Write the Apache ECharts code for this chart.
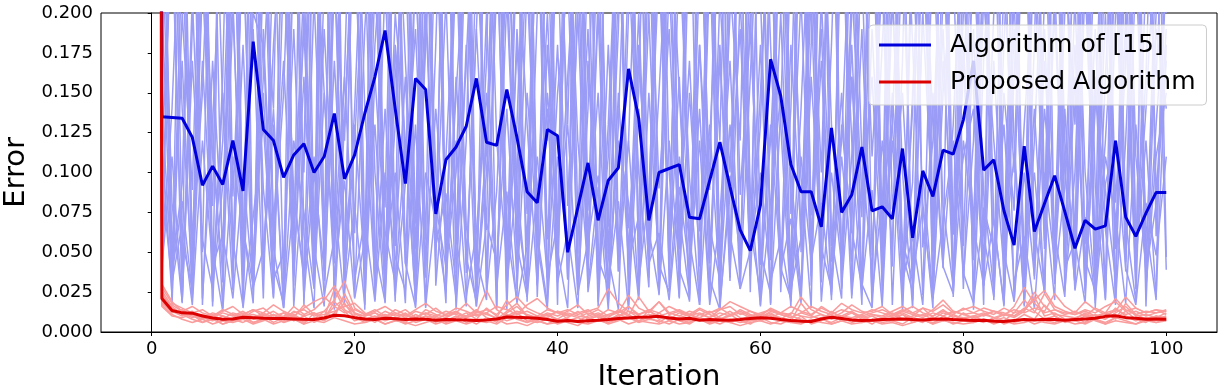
<!DOCTYPE html>
<html>
<head>
<meta charset="utf-8">
<script src="https://cdn.jsdelivr.net/npm/echarts@6/dist/echarts.min.js"></script>
<style>
html, body { margin: 0; padding: 0; background: #fff; }
#chart { width: 1228px; height: 388px; }
</style>
</head>
<body>
<div id="chart"></div>
<script>
// mean error per iteration (index = iteration 0..100), iteration 0 is far above the view
var meanOld = [3,
    0.135, 0.1345, 0.134, 0.122, 0.092, 0.104, 0.0925, 0.12, 0.0885, 0.182,
    0.127, 0.12, 0.097, 0.111, 0.118, 0.1, 0.11, 0.137, 0.096, 0.111,
    0.137, 0.16, 0.189, 0.14, 0.093, 0.159, 0.152, 0.074, 0.108, 0.116,
    0.129, 0.159, 0.119, 0.117, 0.152, 0.122, 0.088, 0.081, 0.127, 0.123,
    0.05, 0.078, 0.106, 0.07, 0.095, 0.103, 0.165, 0.134, 0.07, 0.1,
    0.1025, 0.105, 0.072, 0.071, 0.095, 0.119, 0.091, 0.064, 0.051, 0.0795,
    0.171, 0.148, 0.105, 0.088, 0.088, 0.066, 0.128, 0.075, 0.086, 0.116,
    0.076, 0.0785, 0.071, 0.115, 0.059, 0.101, 0.085, 0.114, 0.1115, 0.133,
    0.17, 0.1015, 0.108, 0.076, 0.0545, 0.1165, 0.063, 0.0805, 0.098, 0.0755,
    0.0525, 0.07, 0.0645, 0.0665, 0.12, 0.072, 0.06, 0.0745, 0.0875, 0.0875];

var meanNew = [3,
    0.021, 0.0135, 0.012, 0.0118, 0.010, 0.0088, 0.008, 0.0082, 0.0092, 0.009,
    0.0086, 0.0085, 0.0084, 0.0082, 0.008, 0.0079, 0.0088, 0.0105, 0.0102, 0.009,
    0.0082, 0.0078, 0.0086, 0.0083, 0.0078, 0.0082, 0.008, 0.0074, 0.0079, 0.0077,
    0.0076, 0.0072, 0.0076, 0.0082, 0.0094, 0.0092, 0.0089, 0.0086, 0.0078, 0.0068,
    0.0072, 0.0066, 0.007, 0.0074, 0.0079, 0.0085, 0.0088, 0.0092, 0.0094, 0.0098,
    0.0088, 0.0082, 0.0086, 0.0074, 0.0078, 0.0076, 0.0074, 0.0078, 0.0084, 0.009,
    0.0086, 0.0078, 0.0072, 0.0068, 0.0066, 0.0082, 0.0092, 0.0084, 0.0076, 0.0072,
    0.0074, 0.0078, 0.008, 0.0082, 0.0078, 0.0076, 0.008, 0.0082, 0.0078, 0.0075,
    0.0072, 0.0074, 0.0068, 0.0066, 0.0072, 0.0078, 0.0076, 0.008, 0.0078, 0.0074,
    0.0078, 0.0082, 0.0086, 0.0098, 0.0102, 0.009, 0.0086, 0.008, 0.0082, 0.008];

// single runs of the algorithm of [15]
var oldRun1 = [3,
    0.21, 0.028, 0.35, 0.047, 0.28, 0.016, 0.16, 0.44, 0.038, 0.25,
    0.09, 0.021, 0.31, 0.061, 0.19, 0.033, 0.48, 0.052, 0.13, 0.27,
    0.014, 0.22, 0.078, 0.36, 0.043, 0.24, 0.015, 0.18, 0.39, 0.055,
    0.26, 0.026, 0.12, 0.3, 0.064, 0.019, 0.37, 0.071, 0.2, 0.036,
    0.29, 0.023, 0.14, 0.33, 0.049, 0.19, 0.42, 0.031, 0.088, 0.25,
    0.041, 0.34, 0.058, 0.017, 0.23, 0.12, 0.38, 0.029, 0.16, 0.3,
    0.045, 0.45, 0.083, 0.022, 0.24, 0.1, 0.32, 0.037, 0.18, 0.025,
    0.27, 0.062, 0.4, 0.013, 0.15, 0.29, 0.051, 0.21, 0.36, 0.034,
    0.12, 0.31, 0.069, 0.018, 0.23, 0.38, 0.042, 0.17, 0.057, 0.28,
    0.027, 0.33, 0.091, 0.02, 0.2, 0.43, 0.048, 0.14, 0.26, 0.039];
var oldRun2 = [3,
    0.064, 0.27, 0.018, 0.19, 0.41, 0.035, 0.12, 0.3, 0.027, 0.22,
    0.37, 0.053, 0.015, 0.26, 0.1, 0.34, 0.032, 0.17, 0.046, 0.29,
    0.44, 0.024, 0.14, 0.019, 0.32, 0.068, 0.21, 0.039, 0.38, 0.059,
    0.016, 0.24, 0.11, 0.35, 0.029, 0.18, 0.054, 0.28, 0.021, 0.4,
    0.079, 0.23, 0.033, 0.31, 0.047, 0.014, 0.2, 0.36, 0.041, 0.15,
    0.27, 0.022, 0.39, 0.063, 0.13, 0.028, 0.25, 0.47, 0.05, 0.18,
    0.017, 0.3, 0.074, 0.21, 0.035, 0.35, 0.044, 0.12, 0.28, 0.023,
    0.19, 0.056, 0.33, 0.026, 0.24, 0.081, 0.015, 0.37, 0.061, 0.16,
    0.29, 0.031, 0.42, 0.049, 0.11, 0.019, 0.26, 0.072, 0.34, 0.038,
    0.21, 0.024, 0.14, 0.31, 0.052, 0.24, 0.029, 0.38, 0.085, 0.19];
var oldRun3 = [3,
    0.12, 0.022, 0.24, 0.058, 0.15, 0.33, 0.031, 0.2, 0.047, 0.37,
    0.036, 0.18, 0.28, 0.016, 0.11, 0.4, 0.062, 0.23, 0.027, 0.14,
    0.3, 0.051, 0.019, 0.35, 0.093, 0.19, 0.034, 0.26, 0.071, 0.021,
    0.32, 0.043, 0.17, 0.45, 0.028, 0.1, 0.24, 0.056, 0.014, 0.29,
    0.13, 0.36, 0.039, 0.2, 0.018, 0.27, 0.065, 0.15, 0.39, 0.025,
    0.22, 0.074, 0.023, 0.31, 0.048, 0.18, 0.032, 0.34, 0.087, 0.016,
    0.26, 0.044, 0.14, 0.38, 0.029, 0.21, 0.059, 0.021, 0.3, 0.11,
    0.037, 0.25, 0.017, 0.17, 0.43, 0.053, 0.12, 0.28, 0.026, 0.2,
    0.35, 0.061, 0.022, 0.22, 0.1, 0.32, 0.042, 0.19, 0.03, 0.27,
    0.054, 0.4, 0.015, 0.16, 0.29, 0.038, 0.23, 0.067, 0.02, 0.33];
var oldRun4 = [3,
    0.33, 0.049, 0.17, 0.021, 0.29, 0.11, 0.037, 0.36, 0.066, 0.018,
    0.23, 0.14, 0.42, 0.029, 0.2, 0.052, 0.3, 0.024, 0.16, 0.38,
    0.058, 0.25, 0.033, 0.13, 0.31, 0.015, 0.19, 0.47, 0.041, 0.1,
    0.28, 0.047, 0.02, 0.22, 0.35, 0.027, 0.15, 0.063, 0.26, 0.017,
    0.34, 0.072, 0.19, 0.03, 0.41, 0.055, 0.12, 0.023, 0.24, 0.3,
    0.039, 0.16, 0.019, 0.28, 0.089, 0.37, 0.034, 0.21, 0.048, 0.13,
    0.32, 0.025, 0.18, 0.06, 0.27, 0.043, 0.44, 0.028, 0.11, 0.23,
    0.016, 0.34, 0.077, 0.15, 0.032, 0.26, 0.05, 0.39, 0.022, 0.18,
    0.068, 0.24, 0.035, 0.31, 0.12, 0.019, 0.36, 0.057, 0.2, 0.045,
    0.28, 0.1, 0.024, 0.25, 0.053, 0.17, 0.41, 0.031, 0.13, 0.22];
var oldRun5 = [3,
    0.045, 0.14, 0.3, 0.023, 0.22, 0.079, 0.39, 0.036, 0.18, 0.027,
    0.27, 0.057, 0.15, 0.34, 0.016, 0.21, 0.048, 0.43, 0.031, 0.12,
    0.24, 0.02, 0.37, 0.054, 0.16, 0.026, 0.28, 0.1, 0.018, 0.33,
    0.042, 0.19, 0.064, 0.4, 0.022, 0.25, 0.13, 0.029, 0.31, 0.051,
    0.015, 0.21, 0.35, 0.038, 0.11, 0.27, 0.033, 0.18, 0.059, 0.38,
    0.028, 0.24, 0.097, 0.019, 0.32, 0.046, 0.2, 0.44, 0.035, 0.15,
    0.29, 0.04, 0.021, 0.36, 0.073, 0.19, 0.025, 0.26, 0.12, 0.017,
    0.4, 0.052, 0.22, 0.03, 0.14, 0.31, 0.023, 0.25, 0.062, 0.35,
    0.014, 0.17, 0.28, 0.044, 0.21, 0.027, 0.39, 0.084, 0.02, 0.24,
    0.13, 0.33, 0.037, 0.2, 0.018, 0.29, 0.058, 0.16, 0.37, 0.047];
var oldRun6 = [3,
    0.26, 0.039, 0.093, 0.32, 0.017, 0.17, 0.053, 0.25, 0.41, 0.028,
    0.15, 0.022, 0.3, 0.069, 0.22, 0.041, 0.36, 0.014, 0.13, 0.26,
    0.048, 0.39, 0.032, 0.2, 0.12, 0.019, 0.27, 0.063, 0.34, 0.037,
    0.17, 0.31, 0.024, 0.088, 0.23, 0.055, 0.44, 0.03, 0.15, 0.071,
    0.35, 0.026, 0.24, 0.016, 0.13, 0.29, 0.046, 0.2, 0.034, 0.4,
    0.1, 0.021, 0.26, 0.36, 0.043, 0.17, 0.061, 0.027, 0.3, 0.21,
    0.018, 0.14, 0.33, 0.05, 0.25, 0.031, 0.18, 0.38, 0.023, 0.092,
    0.3, 0.038, 0.12, 0.015, 0.27, 0.42, 0.059, 0.19, 0.029, 0.23,
    0.052, 0.35, 0.02, 0.15, 0.076, 0.3, 0.033, 0.21, 0.45, 0.042,
    0.18, 0.026, 0.27, 0.064, 0.017, 0.34, 0.11, 0.039, 0.24, 0.2];
var oldRun7 = [3,
    0.17, 0.38, 0.057, 0.027, 0.23, 0.13, 0.015, 0.3, 0.049, 0.19,
    0.021, 0.25, 0.39, 0.036, 0.16, 0.029, 0.29, 0.082, 0.018, 0.35,
    0.14, 0.032, 0.22, 0.054, 0.42, 0.023, 0.18, 0.31, 0.04, 0.26,
    0.067, 0.016, 0.33, 0.12, 0.044, 0.27, 0.019, 0.2, 0.37, 0.051,
    0.16, 0.27, 0.025, 0.073, 0.32, 0.038, 0.23, 0.1, 0.028, 0.29,
    0.41, 0.033, 0.15, 0.047, 0.24, 0.014, 0.33, 0.086, 0.19, 0.042,
    0.12, 0.26, 0.031, 0.4, 0.056, 0.17, 0.02, 0.28, 0.062, 0.35,
    0.048, 0.18, 0.29, 0.035, 0.094, 0.34, 0.022, 0.15, 0.23, 0.027,
    0.19, 0.017, 0.37, 0.058, 0.26, 0.041, 0.14, 0.024, 0.31, 0.1,
    0.03, 0.22, 0.053, 0.36, 0.019, 0.12, 0.27, 0.043, 0.2, 0.31];
var oldRun8 = [3,
    0.29, 0.081, 0.019, 0.21, 0.05, 0.35, 0.14, 0.026, 0.27, 0.42,
    0.046, 0.13, 0.016, 0.24, 0.33, 0.037, 0.19, 0.063, 0.38, 0.022,
    0.19, 0.3, 0.042, 0.1, 0.018, 0.23, 0.058, 0.4, 0.03, 0.15,
    0.25, 0.039, 0.2, 0.014, 0.29, 0.077, 0.027, 0.33, 0.12, 0.24,
    0.033, 0.38, 0.061, 0.15, 0.021, 0.22, 0.47, 0.044, 0.27, 0.09,
    0.19, 0.052, 0.3, 0.017, 0.12, 0.26, 0.035, 0.39, 0.066, 0.023,
    0.23, 0.13, 0.015, 0.31, 0.048, 0.2, 0.36, 0.029, 0.16, 0.072,
    0.33, 0.02, 0.21, 0.057, 0.032, 0.28, 0.13, 0.04, 0.42, 0.054,
    0.24, 0.087, 0.026, 0.18, 0.33, 0.016, 0.12, 0.27, 0.049, 0.2,
    0.39, 0.036, 0.16, 0.021, 0.25, 0.06, 0.32, 0.028, 0.11, 0.15];
var oldRun9 = [3,
    0.094, 0.031, 0.068, 0.017, 0.12, 0.042, 0.061, 0.021, 0.1, 0.028,
    0.052, 0.14, 0.015, 0.083, 0.038, 0.11, 0.023, 0.059, 0.16, 0.033,
    0.071, 0.019, 0.1, 0.047, 0.026, 0.13, 0.016, 0.079, 0.041, 0.12,
    0.022, 0.063, 0.15, 0.029, 0.088, 0.018, 0.054, 0.11, 0.034, 0.069,
    0.13, 0.024, 0.057, 0.098, 0.03, 0.082, 0.014, 0.14, 0.043, 0.062,
    0.02, 0.091, 0.039, 0.12, 0.017, 0.073, 0.17, 0.027, 0.051, 0.1,
    0.032, 0.058, 0.019, 0.11, 0.045, 0.081, 0.023, 0.13, 0.064, 0.028,
    0.089, 0.016, 0.15, 0.049, 0.025, 0.1, 0.021, 0.07, 0.12, 0.037,
    0.018, 0.078, 0.052, 0.13, 0.031, 0.06, 0.015, 0.1, 0.043, 0.14,
    0.026, 0.072, 0.02, 0.093, 0.12, 0.04, 0.017, 0.081, 0.048, 0.11];
var oldRun10 = [3,
    0.041, 0.11, 0.019, 0.17, 0.058, 0.027, 0.092, 0.21, 0.015, 0.072,
    0.13, 0.033, 0.049, 0.19, 0.022, 0.1, 0.038, 0.24, 0.026, 0.079,
    0.017, 0.16, 0.063, 0.031, 0.12, 0.021, 0.2, 0.054, 0.087, 0.029,
    0.18, 0.016, 0.068, 0.044, 0.14, 0.034, 0.22, 0.061, 0.018, 0.11,
    0.052, 0.2, 0.028, 0.091, 0.014, 0.15, 0.043, 0.073, 0.26, 0.023,
    0.12, 0.039, 0.02, 0.18, 0.066, 0.032, 0.13, 0.048, 0.23, 0.017,
    0.082, 0.15, 0.027, 0.059, 0.21, 0.019, 0.1, 0.042, 0.16, 0.03,
    0.015, 0.12, 0.053, 0.25, 0.035, 0.078, 0.021, 0.17, 0.062, 0.11,
    0.14, 0.029, 0.071, 0.016, 0.19, 0.047, 0.1, 0.025, 0.22, 0.04,
    0.057, 0.018, 0.15, 0.088, 0.033, 0.2, 0.044, 0.12, 0.022, 0.18];
var oldRun11 = [3,
    0.36, 0.017, 0.2, 0.089, 0.31, 0.028, 0.15, 0.047, 0.26, 0.02,
    0.32, 0.067, 0.17, 0.035, 0.44, 0.053, 0.016, 0.22, 0.12, 0.3,
    0.031, 0.18, 0.27, 0.023, 0.093, 0.35, 0.041, 0.14, 0.056, 0.23,
    0.41, 0.026, 0.1, 0.26, 0.014, 0.19, 0.074, 0.32, 0.034, 0.15,
    0.22, 0.049, 0.37, 0.019, 0.18, 0.038, 0.12, 0.3, 0.064, 0.024,
    0.28, 0.15, 0.029, 0.23, 0.4, 0.018, 0.086, 0.19, 0.045, 0.33,
    0.058, 0.2, 0.022, 0.14, 0.29, 0.051, 0.37, 0.027, 0.22, 0.083,
    0.16, 0.036, 0.27, 0.1, 0.015, 0.2, 0.35, 0.043, 0.13, 0.28,
    0.021, 0.21, 0.12, 0.039, 0.3, 0.017, 0.18, 0.44, 0.032, 0.091,
    0.26, 0.055, 0.19, 0.025, 0.34, 0.069, 0.019, 0.23, 0.16, 0.3];
var oldRun12 = [3,
    0.11, 0.25, 0.037, 0.4, 0.021, 0.13, 0.28, 0.057, 0.016, 0.2,
    0.18, 0.024, 0.23, 0.087, 0.033, 0.27, 0.15, 0.043, 0.33, 0.062,
    0.28, 0.1, 0.018, 0.16, 0.24, 0.029, 0.36, 0.058, 0.21, 0.014,
    0.12, 0.37, 0.031, 0.24, 0.049, 0.13, 0.31, 0.022, 0.18, 0.053,
    0.27, 0.12, 0.039, 0.21, 0.066, 0.35, 0.017, 0.17, 0.076, 0.23,
    0.06, 0.29, 0.045, 0.14, 0.02, 0.21, 0.1, 0.27, 0.025, 0.36,
    0.18, 0.034, 0.24, 0.097, 0.015, 0.31, 0.13, 0.048, 0.2, 0.27,
    0.11, 0.22, 0.041, 0.33, 0.18, 0.023, 0.25, 0.079, 0.028, 0.29,
    0.15, 0.038, 0.2, 0.28, 0.019, 0.13, 0.23, 0.052, 0.37, 0.026,
    0.1, 0.28, 0.032, 0.12, 0.23, 0.044, 0.3, 0.016, 0.19, 0.14];
var oldRun13 = [3,
    0.023, 0.32, 0.14, 0.036, 0.27, 0.019, 0.41, 0.085, 0.24, 0.044,
    0.16, 0.29, 0.027, 0.38, 0.061, 0.015, 0.22, 0.33, 0.048, 0.13,
    0.039, 0.26, 0.021, 0.31, 0.17, 0.052, 0.43, 0.029, 0.11, 0.24,
    0.037, 0.19, 0.34, 0.016, 0.27, 0.092, 0.022, 0.3, 0.058, 0.18,
    0.033, 0.4, 0.076, 0.25, 0.018, 0.13, 0.32, 0.045, 0.2, 0.028,
    0.35, 0.066, 0.17, 0.041, 0.28, 0.014, 0.22, 0.12, 0.38, 0.05,
    0.024, 0.33, 0.1, 0.027, 0.18, 0.42, 0.054, 0.15, 0.021, 0.26,
    0.37, 0.043, 0.13, 0.3, 0.02, 0.2, 0.071, 0.34, 0.03, 0.17,
    0.045, 0.23, 0.4, 0.017, 0.16, 0.29, 0.063, 0.025, 0.35, 0.12,
    0.038, 0.25, 0.018, 0.31, 0.081, 0.19, 0.027, 0.42, 0.06, 0.23];
var oldRun14 = [3,
    0.14, 0.036, 0.082, 0.024, 0.17, 0.052, 0.013, 0.11, 0.065, 0.029,
    0.19, 0.041, 0.018, 0.12, 0.075, 0.027, 0.15, 0.034, 0.095, 0.021,
    0.058, 0.13, 0.026, 0.18, 0.043, 0.016, 0.1, 0.069, 0.025, 0.16,
    0.047, 0.019, 0.12, 0.037, 0.21, 0.055, 0.022, 0.09, 0.14, 0.031,
    0.063, 0.015, 0.17, 0.046, 0.028, 0.12, 0.081, 0.02, 0.15, 0.042,
    0.025, 0.11, 0.057, 0.18, 0.033, 0.014, 0.098, 0.049, 0.2, 0.026,
    0.13, 0.039, 0.071, 0.018, 0.16, 0.053, 0.027, 0.11, 0.044, 0.19,
    0.023, 0.085, 0.13, 0.032, 0.06, 0.017, 0.15, 0.041, 0.024, 0.12,
    0.067, 0.029, 0.17, 0.05, 0.019, 0.1, 0.035, 0.14, 0.062, 0.022,
    0.16, 0.045, 0.026, 0.11, 0.073, 0.018, 0.13, 0.038, 0.08, 0.17];

// single runs of the proposed algorithm
var newRun1 = [3,
    0.019, 0.012, 0.014, 0.01, 0.008, 0.011, 0.007, 0.009, 0.012, 0.008,
    0.01, 0.006, 0.009, 0.011, 0.007, 0.008, 0.013, 0.009, 0.024, 0.012,
    0.008, 0.01, 0.007, 0.009, 0.006, 0.011, 0.008, 0.01, 0.007, 0.009,
    0.012, 0.008, 0.015, 0.01, 0.007, 0.009, 0.006, 0.008, 0.011, 0.007,
    0.009, 0.013, 0.008, 0.01, 0.006, 0.009, 0.016, 0.01, 0.008, 0.012,
    0.007, 0.009, 0.011, 0.008, 0.006, 0.01, 0.013, 0.009, 0.007, 0.008,
    0.011, 0.009, 0.007, 0.018, 0.01, 0.008, 0.006, 0.009, 0.012, 0.008,
    0.01, 0.007, 0.009, 0.011, 0.008, 0.006, 0.01, 0.014, 0.009, 0.007,
    0.008, 0.011, 0.009, 0.007, 0.012, 0.02, 0.013, 0.008, 0.01, 0.007,
    0.009, 0.006, 0.011, 0.008, 0.015, 0.01, 0.007, 0.009, 0.008, 0.01];
var newRun2 = [3,
    0.024, 0.015, 0.011, 0.013, 0.009, 0.007, 0.01, 0.008, 0.006, 0.009,
    0.011, 0.008, 0.012, 0.007, 0.01, 0.006, 0.009, 0.027, 0.014, 0.01,
    0.007, 0.009, 0.011, 0.008, 0.012, 0.007, 0.01, 0.009, 0.006, 0.008,
    0.01, 0.014, 0.009, 0.007, 0.011, 0.008, 0.006, 0.01, 0.009, 0.013,
    0.008, 0.007, 0.01, 0.012, 0.009, 0.014, 0.011, 0.007, 0.009, 0.006,
    0.01, 0.008, 0.007, 0.011, 0.013, 0.009, 0.006, 0.008, 0.01, 0.007,
    0.009, 0.012, 0.01, 0.008, 0.006, 0.009, 0.011, 0.007, 0.008, 0.01,
    0.007, 0.009, 0.012, 0.008, 0.01, 0.015, 0.009, 0.007, 0.011, 0.008,
    0.01, 0.007, 0.008, 0.011, 0.009, 0.013, 0.022, 0.01, 0.012, 0.008,
    0.007, 0.01, 0.009, 0.012, 0.008, 0.018, 0.011, 0.008, 0.01, 0.009];
var newRun3 = [3,
    0.016, 0.01, 0.009, 0.011, 0.006, 0.008, 0.005, 0.007, 0.009, 0.006,
    0.008, 0.005, 0.007, 0.01, 0.006, 0.009, 0.007, 0.012, 0.018, 0.009,
    0.006, 0.008, 0.005, 0.007, 0.009, 0.006, 0.008, 0.005, 0.007, 0.01,
    0.006, 0.008, 0.007, 0.005, 0.009, 0.012, 0.007, 0.006, 0.008, 0.005,
    0.007, 0.009, 0.006, 0.008, 0.005, 0.007, 0.01, 0.006, 0.008, 0.007,
    0.005, 0.008, 0.006, 0.009, 0.007, 0.005, 0.008, 0.006, 0.007, 0.009,
    0.006, 0.005, 0.008, 0.007, 0.006, 0.009, 0.005, 0.007, 0.008, 0.006,
    0.008, 0.006, 0.007, 0.005, 0.009, 0.007, 0.006, 0.008, 0.005, 0.007,
    0.006, 0.008, 0.007, 0.009, 0.006, 0.008, 0.005, 0.007, 0.006, 0.008,
    0.007, 0.005, 0.008, 0.006, 0.009, 0.007, 0.005, 0.008, 0.006, 0.007];
var newRun4 = [3,
    0.021, 0.017, 0.013, 0.016, 0.012, 0.01, 0.014, 0.011, 0.009, 0.013,
    0.015, 0.01, 0.012, 0.009, 0.017, 0.011, 0.013, 0.02, 0.032, 0.015,
    0.011, 0.014, 0.01, 0.012, 0.009, 0.013, 0.011, 0.015, 0.01, 0.012,
    0.018, 0.012, 0.026, 0.014, 0.01, 0.013, 0.011, 0.009, 0.012, 0.01,
    0.013, 0.017, 0.011, 0.014, 0.01, 0.012, 0.023, 0.015, 0.012, 0.019,
    0.011, 0.013, 0.01, 0.012, 0.009, 0.014, 0.016, 0.011, 0.013, 0.01,
    0.015, 0.012, 0.011, 0.022, 0.014, 0.011, 0.009, 0.012, 0.017, 0.013,
    0.011, 0.01, 0.013, 0.016, 0.012, 0.01, 0.014, 0.02, 0.013, 0.011,
    0.012, 0.015, 0.013, 0.01, 0.016, 0.028, 0.018, 0.012, 0.014, 0.011,
    0.013, 0.01, 0.015, 0.012, 0.021, 0.014, 0.011, 0.013, 0.012, 0.014];
var newRun5 = [3,
    0.018, 0.013, 0.01, 0.012, 0.008, 0.01, 0.008, 0.012, 0.01, 0.011,
    0.009, 0.011, 0.008, 0.013, 0.01, 0.012, 0.009, 0.016, 0.021, 0.011,
    0.01, 0.012, 0.009, 0.011, 0.014, 0.009, 0.012, 0.008, 0.011, 0.013,
    0.009, 0.011, 0.012, 0.008, 0.013, 0.018, 0.01, 0.009, 0.011, 0.008,
    0.012, 0.01, 0.009, 0.011, 0.008, 0.01, 0.013, 0.009, 0.011, 0.01,
    0.008, 0.012, 0.01, 0.014, 0.011, 0.008, 0.01, 0.012, 0.009, 0.011,
    0.01, 0.008, 0.012, 0.01, 0.009, 0.011, 0.008, 0.01, 0.013, 0.009,
    0.011, 0.009, 0.01, 0.012, 0.009, 0.011, 0.008, 0.012, 0.01, 0.009,
    0.01, 0.012, 0.009, 0.011, 0.01, 0.014, 0.025, 0.016, 0.011, 0.01,
    0.009, 0.011, 0.01, 0.008, 0.012, 0.016, 0.01, 0.011, 0.009, 0.012];
var newRun6 = [3,
    0.023, 0.014, 0.012, 0.009, 0.011, 0.009, 0.012, 0.01, 0.013, 0.009,
    0.012, 0.009, 0.01, 0.012, 0.014, 0.01, 0.011, 0.013, 0.016, 0.018,
    0.012, 0.009, 0.013, 0.01, 0.011, 0.008, 0.014, 0.011, 0.009, 0.012,
    0.01, 0.013, 0.011, 0.009, 0.02, 0.011, 0.013, 0.01, 0.014, 0.012,
    0.01, 0.012, 0.014, 0.009, 0.011, 0.013, 0.01, 0.022, 0.013, 0.01,
    0.012, 0.01, 0.013, 0.011, 0.009, 0.012, 0.01, 0.014, 0.011, 0.009,
    0.013, 0.011, 0.009, 0.012, 0.01, 0.016, 0.012, 0.01, 0.009, 0.011,
    0.014, 0.012, 0.01, 0.013, 0.011, 0.009, 0.012, 0.01, 0.013, 0.011,
    0.009, 0.011, 0.013, 0.012, 0.01, 0.015, 0.012, 0.024, 0.014, 0.012,
    0.011, 0.013, 0.01, 0.012, 0.014, 0.011, 0.013, 0.01, 0.012, 0.013];
var newRun7 = [3,
    0.026, 0.016, 0.011, 0.008, 0.006, 0.009, 0.005, 0.007, 0.01, 0.006,
    0.008, 0.011, 0.006, 0.009, 0.005, 0.012, 0.008, 0.019, 0.013, 0.007,
    0.009, 0.006, 0.011, 0.008, 0.005, 0.007, 0.01, 0.006, 0.009, 0.013,
    0.008, 0.005, 0.009, 0.006, 0.012, 0.016, 0.01, 0.007, 0.005, 0.008,
    0.006, 0.004, 0.008, 0.01, 0.007, 0.011, 0.009, 0.006, 0.014, 0.008,
    0.01, 0.007, 0.005, 0.009, 0.006, 0.008, 0.011, 0.007, 0.005, 0.009,
    0.012, 0.008, 0.006, 0.01, 0.005, 0.007, 0.013, 0.009, 0.006, 0.008,
    0.005, 0.009, 0.007, 0.011, 0.006, 0.008, 0.005, 0.01, 0.007, 0.012,
    0.008, 0.006, 0.009, 0.005, 0.007, 0.011, 0.008, 0.017, 0.01, 0.006,
    0.008, 0.012, 0.007, 0.005, 0.009, 0.013, 0.008, 0.006, 0.01, 0.007];
var newRun8 = [3,
    0.028, 0.018, 0.015, 0.012, 0.014, 0.01, 0.013, 0.016, 0.011, 0.014,
    0.012, 0.017, 0.013, 0.01, 0.015, 0.019, 0.022, 0.016, 0.012, 0.014,
    0.011, 0.013, 0.016, 0.012, 0.01, 0.014, 0.018, 0.013, 0.011, 0.015,
    0.013, 0.01, 0.012, 0.016, 0.014, 0.011, 0.017, 0.021, 0.015, 0.012,
    0.014, 0.011, 0.013, 0.015, 0.027, 0.018, 0.013, 0.011, 0.014, 0.012,
    0.016, 0.013, 0.011, 0.015, 0.012, 0.014, 0.019, 0.016, 0.013, 0.011,
    0.014, 0.012, 0.016, 0.013, 0.011, 0.015, 0.012, 0.018, 0.014, 0.012,
    0.013, 0.016, 0.011, 0.014, 0.012, 0.015, 0.013, 0.017, 0.012, 0.014,
    0.016, 0.013, 0.011, 0.015, 0.012, 0.014, 0.02, 0.026, 0.016, 0.013,
    0.011, 0.014, 0.012, 0.016, 0.019, 0.013, 0.015, 0.012, 0.014, 0.013];
var newRun9 = [3,
    0.017, 0.011, 0.008, 0.006, 0.008, 0.005, 0.007, 0.006, 0.008, 0.005,
    0.007, 0.009, 0.006, 0.008, 0.005, 0.007, 0.006, 0.009, 0.007, 0.005,
    0.006, 0.008, 0.005, 0.007, 0.006, 0.004, 0.006, 0.008, 0.005, 0.007,
    0.005, 0.007, 0.006, 0.008, 0.005, 0.006, 0.004, 0.007, 0.005, 0.006,
    0.008, 0.006, 0.005, 0.007, 0.006, 0.008, 0.005, 0.007, 0.006, 0.005,
    0.007, 0.005, 0.006, 0.008, 0.005, 0.007, 0.006, 0.004, 0.006, 0.007,
    0.005, 0.007, 0.006, 0.005, 0.008, 0.006, 0.005, 0.007, 0.005, 0.006,
    0.007, 0.005, 0.006, 0.004, 0.006, 0.008, 0.005, 0.007, 0.006, 0.005,
    0.006, 0.008, 0.005, 0.007, 0.005, 0.006, 0.008, 0.006, 0.005, 0.007,
    0.005, 0.006, 0.008, 0.005, 0.007, 0.006, 0.005, 0.007, 0.006, 0.008];
var newRun10 = [3,
    0.03, 0.019, 0.013, 0.011, 0.009, 0.012, 0.01, 0.008, 0.011, 0.014,
    0.01, 0.013, 0.009, 0.016, 0.011, 0.014, 0.02, 0.029, 0.017, 0.012,
    0.01, 0.012, 0.009, 0.014, 0.011, 0.009, 0.012, 0.01, 0.013, 0.011,
    0.009, 0.012, 0.014, 0.011, 0.017, 0.022, 0.015, 0.012, 0.01, 0.013,
    0.011, 0.009, 0.012, 0.01, 0.014, 0.012, 0.016, 0.011, 0.013, 0.019,
    0.012, 0.014, 0.011, 0.009, 0.012, 0.015, 0.011, 0.013, 0.01, 0.012,
    0.014, 0.011, 0.009, 0.012, 0.016, 0.013, 0.011, 0.014, 0.012, 0.01,
    0.012, 0.014, 0.011, 0.013, 0.016, 0.012, 0.01, 0.013, 0.011, 0.015,
    0.012, 0.01, 0.013, 0.011, 0.014, 0.012, 0.015, 0.013, 0.024, 0.016,
    0.012, 0.019, 0.014, 0.011, 0.013, 0.022, 0.015, 0.012, 0.014, 0.011];

var oldRuns = [oldRun1, oldRun2, oldRun3, oldRun4, oldRun5, oldRun6, oldRun7,
    oldRun8, oldRun9, oldRun10, oldRun11, oldRun12, oldRun13, oldRun14];
var newRuns = [newRun1, newRun2, newRun3, newRun4, newRun5,
    newRun6, newRun7, newRun8, newRun9, newRun10];

var legendNames = ['Algorithm of [15]', 'Proposed Algorithm'];
var xTicks = [0, 20, 40, 60, 80, 100];

var FONT = 'DejaVu Sans';

function toPoints(values) {
    var pts = [];
    for (var i = 0; i < values.length; i++) {
        pts.push([i, values[i]]);
    }
    return pts;
}

function runSeries(values, color) {
    return {
        type: 'line',
        data: toPoints(values),
        showSymbol: false,
        symbol: 'none',
        silent: true,
        clip: true,
        z: 1,
        lineStyle: {color: color, width: 1.5}
    };
}

var series = [];
for (var i = 0; i < oldRuns.length; i++) {
    series.push(runSeries(oldRuns[i], '#9a9cf6'));
}
for (var j = 0; j < newRuns.length; j++) {
    series.push(runSeries(newRuns[j], '#fa9c9c'));
}
series.push({
    name: legendNames[0],
    type: 'line',
    data: toPoints(meanOld),
    showSymbol: false,
    symbol: 'none',
    clip: true,
    z: 3,
    color: '#0000dd',
    lineStyle: {color: '#0000dd', width: 3}
});
series.push({
    name: legendNames[1],
    type: 'line',
    data: toPoints(meanNew),
    showSymbol: false,
    symbol: 'none',
    clip: true,
    z: 3,
    color: '#dd0000',
    lineStyle: {color: '#dd0000', width: 3}
});

var chart = echarts.init(document.getElementById('chart'));

var option = {
    animation: false,
    backgroundColor: '#fff',
    textStyle: {fontFamily: FONT},
    grid: {
        left: 101,
        right: 11,
        top: 13,
        bottom: 56,
        outerBoundsMode: 'none',
        show: true,
        borderColor: '#000',
        borderWidth: 1
    },
    legend: {
        data: legendNames,
        orient: 'vertical',
        left: 869,
        top: 25,
        icon: 'rect',
        itemWidth: 52,
        itemHeight: 3,
        itemGap: 7,
        padding: [5, 11, 8, 10],
        backgroundColor: 'rgba(255,255,255,0.8)',
        borderColor: '#cccccc',
        borderWidth: 1,
        borderRadius: 4,
        textStyle: {
            fontFamily: FONT,
            fontSize: 25,
            color: '#000',
            lineHeight: 30,
            padding: [0, 0, 0, 14]
        }
    },
    xAxis: {
        type: 'value',
        min: -5,
        max: 105,
        name: 'Iteration',
        nameLocation: 'middle',
        nameGap: 26,
        nameTextStyle: {fontFamily: FONT, fontSize: 29, color: '#000'},
        axisLine: {show: true, lineStyle: {color: '#000', width: 1}},
        axisTick: {show: true, length: 4, customValues: xTicks, lineStyle: {color: '#000'}},
        axisLabel: {
            customValues: xTicks,
            fontFamily: FONT,
            fontSize: 18,
            color: '#000',
            margin: 8
        },
        splitLine: {show: false}
    },
    yAxis: {
        type: 'value',
        min: 0,
        max: 0.2,
        interval: 0.025,
        name: 'Error',
        nameLocation: 'middle',
        nameGap: 70,
        nameTextStyle: {fontFamily: FONT, fontSize: 29, color: '#000'},
        axisLine: {show: true, lineStyle: {color: '#000', width: 1}},
        axisTick: {show: true, length: 4, lineStyle: {color: '#000'}},
        axisLabel: {
            fontFamily: FONT,
            fontSize: 18,
            color: '#000',
            margin: 8,
            formatter: function (v) { return v.toFixed(3); }
        },
        splitLine: {show: false}
    },
    series: series
};

chart.setOption(option);
</script>
</body>
</html>
